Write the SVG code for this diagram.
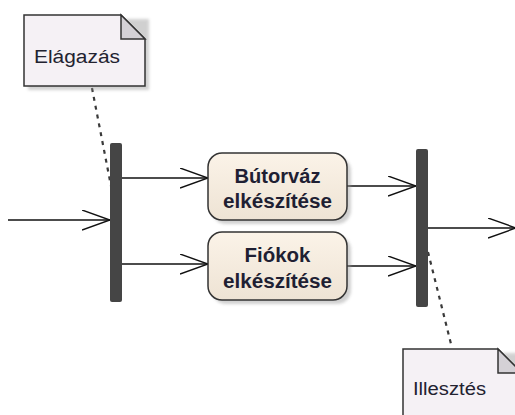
<svg xmlns="http://www.w3.org/2000/svg" width="515" height="415" viewBox="0 0 515 415">
  <style>
    .bar { fill: #454545; }
    .act { fill: url(#actGrad); stroke: #333; stroke-width: 1.5; }
    .shadow { fill: #999; opacity: 0.45; filter: url(#blur); }
    .note { fill: #F5F1F5; stroke: #333; stroke-width: 1.5; }
    .fold { fill: #D4D1D6; stroke: #333; stroke-width: 1.5; stroke-linejoin: miter; }
    .flow { fill: none; stroke: #111; stroke-width: 1.4; }
    .anchor { fill: none; stroke: #3a3a3a; stroke-width: 2.2; stroke-dasharray: 4 5; }
    .atext { font-family: "Liberation Sans", Arial, sans-serif; font-weight: bold; font-size: 19.5px; fill: #1f1f33; text-anchor: middle; }
    .ntext { font-family: "Liberation Sans", Arial, sans-serif; font-size: 18px; fill: #222230; }
  </style>
  <defs>
    <linearGradient id="actGrad" x1="0" y1="0" x2="0" y2="1">
      <stop offset="0" stop-color="#FBF3E8"/>
      <stop offset="1" stop-color="#EEE3D4"/>
    </linearGradient>
    <filter id="blur" x="-10%" y="-10%" width="130%" height="130%">
      <feGaussianBlur stdDeviation="1.5"/>
    </filter>
    <marker id="open" markerWidth="30" markerHeight="24" refX="28" refY="10" orient="auto" markerUnits="userSpaceOnUse">
      <path d="M0,0 L28,10 L0,20" fill="none" stroke="#111" stroke-width="1.4"/>
    </marker>
  </defs>

  <g id="connectors">
    <line class="anchor" x1="92" y1="88" x2="111" y2="186"/>
    <line class="anchor" x1="428" y1="252" x2="452" y2="348"/>
    <line class="flow" x1="8" y1="220" x2="110" y2="220" marker-end="url(#open)"/>
    <line class="flow" x1="122" y1="178" x2="208" y2="178" marker-end="url(#open)"/>
    <line class="flow" x1="122" y1="264" x2="208" y2="264" marker-end="url(#open)"/>
    <line class="flow" x1="347" y1="186" x2="416" y2="186" marker-end="url(#open)"/>
    <line class="flow" x1="347" y1="266" x2="416" y2="266" marker-end="url(#open)"/>
    <line class="flow" x1="428" y1="228" x2="516" y2="228" marker-end="url(#open)"/>
  </g>

  <g id="note-elagazas">
    <path class="shadow" d="M28,19 H149 V90 H28 Z"/>
    <path class="note" d="M24,15 H121 L145,39 V86 H24 Z"/>
    <path class="fold" d="M121,15 V39 H145 Z"/>
    <text class="ntext" x="34" y="63" textLength="86" lengthAdjust="spacingAndGlyphs">Elágazás</text>
  </g>

  <g id="fork">
    <rect class="bar" x="110" y="143" width="12" height="159" rx="2"/>
  </g>

  <g id="node-butorvaz">
    <rect class="shadow" x="212" y="157" width="139" height="67" rx="14"/>
    <rect class="act" x="208" y="153" width="139" height="67" rx="14"/>
    <text class="atext" x="277.5" y="183" textLength="86" lengthAdjust="spacingAndGlyphs">Bútorváz</text>
    <text class="atext" x="277.5" y="208" textLength="109" lengthAdjust="spacingAndGlyphs">elkészítése</text>
  </g>

  <g id="node-fiokok">
    <rect class="shadow" x="212" y="236" width="139" height="68" rx="14"/>
    <rect class="act" x="208" y="232" width="139" height="68" rx="14"/>
    <text class="atext" x="277.5" y="262" textLength="66" lengthAdjust="spacingAndGlyphs">Fiókok</text>
    <text class="atext" x="277.5" y="288" textLength="109" lengthAdjust="spacingAndGlyphs">elkészítése</text>
  </g>

  <g id="join">
    <rect class="bar" x="416" y="149" width="12" height="158" rx="2"/>
  </g>

  <g id="note-illesztes">
    <path class="shadow" d="M407,353 H526 V420 H407 Z"/>
    <path class="note" d="M403,349 H498 L522,373 V420 H403 Z"/>
    <path class="fold" d="M498,349 V373 H522 Z"/>
    <text class="ntext" x="413" y="395" textLength="73" lengthAdjust="spacingAndGlyphs">Illesztés</text>
  </g>
</svg>
